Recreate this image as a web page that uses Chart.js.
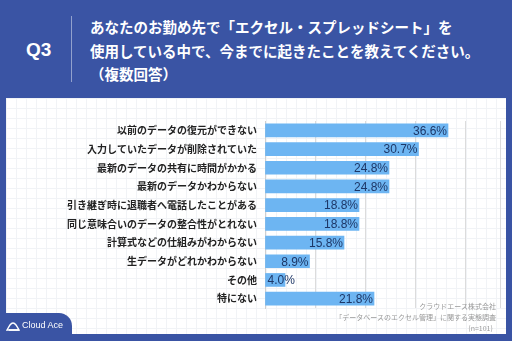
<!DOCTYPE html>
<html>
<head>
<meta charset="utf-8">
<script src="https://cdn.jsdelivr.net/npm/chart.js@4"></script>
<style>
    html, body { margin: 0; padding: 0; }
    body {
        width: 512px; height: 341px; overflow: hidden;
        background: #3a54a4; position: relative;
        font-family: 'Noto Sans CJK JP', 'Noto Sans', sans-serif;
    }
    .q { position: absolute; left: 26px; top: 39px; color: #fff; font: bold 19px 'Liberation Sans', sans-serif; }
    .sep { position: absolute; left: 71px; top: 16px; width: 1px; height: 66px; background: rgba(255,255,255,0.45); }
    .title { position: absolute; left: 90px; top: 15px; color: #fff; font-weight: bold; font-size: 14.5px; line-height: 23.5px; white-space: nowrap; }
    .panel {
        position: absolute; left: 6px; top: 98px; width: 500px; height: 236px;
        background-color: #fff;
        background-image:
            linear-gradient(to right, #f1f3f6 1px, transparent 1px),
            linear-gradient(to bottom, #f1f3f6 1px, transparent 1px);
        background-size: 10px 10px;
    }
    .chart { position: absolute; left: 6px; top: 98px; width: 500px; height: 236px; }
    .note { position: absolute; right: 16px; top: 301px; text-align: right; color: #999; font-size: 7px; line-height: 11px; }
    .tab { position: absolute; left: 0; top: 313px; width: 72px; height: 22px; background: #3a54a4; border-top-right-radius: 13px; }
    .logo { position: absolute; left: 22px; top: 320px; color: #fff; font: 9px 'Liberation Sans', sans-serif; }
</style>
</head>
<body>
<div class="q">Q3</div>
<div class="sep"></div>
<div class="title">あなたのお勤め先で「エクセル・スプレッドシート」を<br>使用している中で、今までに起きたことを教えてください。<br>（複数回答）</div>
<div class="panel"></div>
<div class="chart"><canvas id="c"></canvas></div>
<div class="note">クラウドエース株式会社<br>「データベースのエクセル管理」に関する実態調査<br>(n=101)&nbsp;&nbsp;</div>
<div class="tab"></div>
<svg style="position:absolute;left:6px;top:322px" width="14" height="9" viewBox="0 0 14 9">
    <path d="M1 8 L4 3 Q7 -1 10 3 L13 8 Z" fill="none" stroke="#fff" stroke-width="1.4"/>
    <path d="M3 8 L13 8" stroke="#fff" stroke-width="1.6"/>
</svg>
<div class="logo">Cloud Ace</div>
<script>
// 回答項目と割合
const labels = [
    '以前のデータの復元ができない',
    '入力していたデータが削除されていた',
    '最新のデータの共有に時間がかかる',
    '最新のデータかわからない',
    '引き継ぎ時に退職者へ電話したことがある',
    '同じ意味合いのデータの整合性がとれない',
    '計算式などの仕組みがわからない',
    '生データがどれかわからない',
    'その他',
    '特にない'
];
const values = [36.6, 30.7, 24.8, 24.8, 18.8, 18.8, 15.8, 8.9, 4.0, 21.8];

// 棒の端に数値を描く
const valueLabels = {
    id: 'valueLabels',
    afterDatasetsDraw(chart) {
        const ctx = chart.ctx;
        const meta = chart.getDatasetMeta(0);
        ctx.save();
        ctx.font = '12px "Liberation Sans", sans-serif';
        ctx.fillStyle = '#1d3767';
        ctx.textBaseline = 'middle';
        ctx.textAlign = 'left';
        meta.data.forEach((bar, i) => {
            const text = values[i].toFixed(1) + '%';
            const w = ctx.measureText(text).width;
            const x = Math.max(bar.x - w - 1, bar.base + 2);
            ctx.fillText(text, x, bar.y + 1);
        });
        ctx.restore();
    }
};

new Chart(document.getElementById('c'), {
    type: 'bar',
    data: {
        labels: labels,
        datasets: [{
            data: values,
            backgroundColor: '#6db5f2',
            barThickness: 13
        }]
    },
    options: {
        indexAxis: 'y',
        responsive: true,
        maintainAspectRatio: false,
        animation: false,
        layout: { padding: { top: 23, bottom: 26, right: 6, left: 0 } },
        plugins: { legend: { display: false }, tooltip: { enabled: false } },
        scales: {
            x: {
                min: 0,
                max: 47,
                ticks: { display: false, stepSize: 10 },
                grid: { color: '#dcdcdc', drawTicks: false },
                border: { display: false }
            },
            y: {
                afterFit: scale => { scale.width = 259; },
                ticks: {
                    color: '#222',
                    padding: 8,
                    font: { family: 'Noto Sans CJK JP', size: 10, weight: 'bold' }
                },
                grid: { display: false, drawTicks: false },
                border: { display: true, color: '#cfcfcf' }
            }
        }
    },
    plugins: [valueLabels]
});
</script>
</body>
</html>
